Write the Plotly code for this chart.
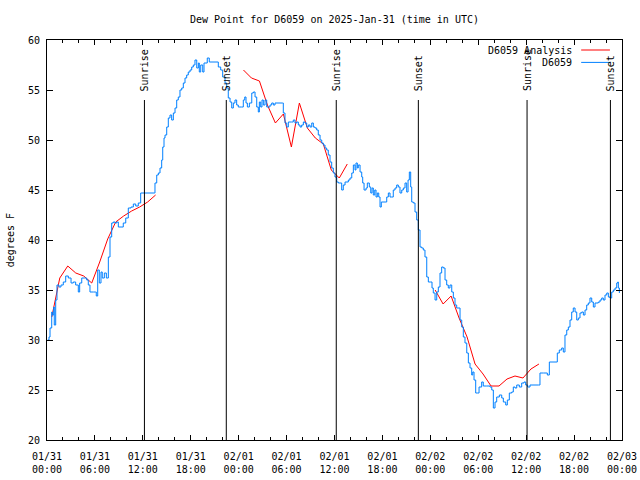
import pandas as pd
import plotly.graph_objects as go

BASE = pd.Timestamp("2025-01-31 00:00")

# Observed dew point (hours since 01/31 00:00 UTC, degrees F)
obs_hours = [0.09, 0.25, 0.38, 0.59, 0.66, 0.84, 0.91, 1.09, 1.25, 1.50, 1.75, 2.04, 2.34, 2.67, 3.01, 3.29, 3.59, 3.92,
             4.09, 4.35, 4.67, 4.97, 5.17, 5.38, 5.80, 6.10, 6.17, 6.35, 6.55, 6.76, 6.92, 7.18, 7.43, 7.68, 7.89, 8.10,
             8.30, 8.52, 8.73, 8.93, 9.27, 9.55, 9.86, 10.18, 10.52, 10.81, 11.11, 11.43, 11.73, 13.44,
             13.52, 13.74, 13.94, 14.15, 14.36, 14.49, 14.65, 14.78, 14.99, 15.19, 15.40, 15.61, 15.82, 16.03, 16.24,
             16.44, 16.65, 16.87, 17.07, 17.28, 17.49, 17.69, 17.91, 18.12, 18.32, 18.53, 18.75, 18.95, 19.07, 19.25,
             19.50, 19.66, 19.91, 20.07, 20.32, 21.16, 21.45, 21.75, 22.00, 22.29, 22.50, 22.70, 22.92, 23.13, 23.33,
             23.54, 23.75, 23.95, 24.38, 24.58, 24.76, 24.92, 25.09, 25.34, 25.64, 25.84, 26.05, 26.26, 26.46, 26.59,
             26.76, 26.92, 27.09, 27.30, 27.51, 27.71, 27.92, 28.14, 28.34, 28.55, 29.51, 29.59, 29.80, 30.02, 30.22,
             30.64, 30.84, 31.05, 31.27, 31.47, 31.68, 31.89, 32.10, 32.31, 32.52, 32.72, 32.93, 33.15, 33.35, 33.56,
             33.77, 33.97, 34.19, 34.40, 34.60, 34.81, 35.02, 35.22, 35.44, 35.65, 35.85, 36.06, 36.28, 36.48, 36.90,
             37.10, 37.32, 37.73, 37.94, 38.16, 38.36, 38.57, 38.69, 38.86, 38.98, 39.20, 39.41, 39.53, 39.70, 39.95,
             40.11, 40.36, 40.54, 40.70, 40.86, 41.04, 41.20, 41.36, 41.54, 41.70, 41.86, 42.33, 42.54, 42.74, 42.95,
             43.16, 43.36, 43.58, 43.79, 43.99, 44.20, 44.42, 44.62, 44.83, 45.04, 45.21, 45.37, 45.54, 45.67, 45.87,
             46.08, 46.29, 46.49, 46.71, 46.92, 47.12, 47.33, 47.55, 47.75, 48.05, 48.21, 48.37, 48.59, 48.80, 49.00,
             49.21, 49.42, 49.62, 49.84, 50.05, 50.25, 50.46, 50.68, 50.88, 51.09, 51.30, 51.72, 51.93, 52.13, 52.34,
             52.56, 52.76, 52.97, 53.18, 53.31, 53.47, 53.68, 53.88, 54.10, 54.43, 54.63, 55.06, 55.47, 55.69, 55.89,
             56.10, 56.31, 56.64, 56.94, 57.14, 57.44, 57.64, 57.89, 58.19, 58.39, 58.60, 58.82, 59.14, 59.44, 59.73,
             59.94, 60.19, 60.48, 61.52, 61.73, 62.15, 62.65, 62.90, 63.74, 63.90, 64.15, 64.45, 64.65, 64.86, 65.08,
             65.28, 65.49, 65.70, 65.90, 66.12, 66.33, 66.53, 66.74, 66.96, 67.16, 67.37, 67.58, 67.78, 67.99, 68.21,
             68.41, 68.62, 69.03, 69.25, 69.46, 69.66, 69.87, 70.09, 70.29, 70.50, 70.71, 70.91, 71.13, 71.34, 71.46,
             71.54, 71.67]
obs_values = [30.0, 30.3, 31.2, 32.8, 32.5, 33.3, 31.5, 34.0, 35.5, 35.3, 35.5, 35.8, 36.4, 36.2, 35.7, 35.8, 35.5, 34.8,
              35.7, 36.2, 36.2, 36.0, 35.5, 34.8, 34.8, 34.8, 34.4, 37.0, 35.7, 36.8, 36.2, 36.7, 36.2, 38.3, 40.3, 41.7,
              41.8, 41.7, 41.8, 41.3, 41.3, 41.7, 42.2, 43.2, 43.3, 43.6, 43.4, 43.7, 44.7, 44.7,
              45.7, 46.5, 46.7, 47.2, 48.0, 49.3, 50.2, 50.5, 51.3, 52.2, 52.5, 52.0, 52.7, 53.2, 54.0,
              54.3, 55.0, 55.2, 55.7, 56.2, 56.5, 56.8, 57.0, 57.3, 57.5, 58.0, 57.2, 57.7, 56.8, 57.5,
              56.8, 57.7, 57.7, 58.2, 57.8, 57.8, 57.3, 57.0, 56.3, 55.7, 55.2, 54.2, 53.8, 53.2, 53.7,
              54.0, 53.5, 53.3, 53.3, 54.0, 54.3, 53.7, 53.3, 53.7, 54.7, 54.8, 54.3, 53.3, 52.8, 53.8,
              53.3, 54.0, 53.5, 54.0, 53.3, 53.3, 53.5, 53.7, 53.5, 53.7, 53.7, 52.7, 51.7, 51.3, 51.8,
              51.8, 52.0, 51.7, 51.8, 51.5, 51.3, 51.5, 51.8, 51.7, 51.3, 51.5, 51.3, 51.7, 51.3, 51.2,
              51.0, 50.5, 50.0, 49.7, 49.5, 49.2, 49.0, 48.5, 47.8, 47.2, 46.7, 46.3, 45.8, 45.7, 45.0,
              45.5, 45.8, 46.0, 46.2, 46.7, 47.5, 47.0, 47.7, 47.2, 47.5, 46.8, 46.3, 45.7, 45.0, 45.2,
              45.7, 45.3, 44.7, 45.2, 44.5, 45.0, 44.3, 44.7, 44.3, 43.3, 43.8, 43.8, 44.3, 44.7, 44.3,
              44.3, 45.0, 45.2, 45.5, 45.3, 44.7, 45.0, 45.2, 45.7, 44.8, 46.0, 46.8, 45.3, 43.8, 43.7,
              42.8, 42.0, 41.0, 39.3, 39.2, 39.0, 38.3, 36.3, 35.8, 35.8, 35.2, 34.7, 34.0, 34.8, 35.3,
              36.7, 37.3, 37.2, 36.0, 35.5, 35.2, 35.5, 34.8, 34.2, 33.5, 33.2, 32.0, 31.3, 30.3, 29.7,
              28.7, 27.7, 27.2, 26.5, 26.8, 26.0, 24.7, 24.7, 25.3, 25.8, 25.4, 25.4, 25.3, 25.0, 23.2,
              23.8, 24.3, 24.5, 24.2, 23.8, 23.5, 24.0, 24.7, 24.8, 25.3, 25.2, 25.5, 25.3, 25.7, 25.8,
              25.5, 25.3, 25.5, 25.5, 26.7, 26.7, 26.5, 27.8, 27.8, 28.7, 29.0, 29.2, 28.8, 30.5, 31.0,
              31.3, 32.0, 32.8, 33.2, 32.8, 32.0, 32.2, 32.7, 32.8, 32.5, 33.0, 33.5, 33.7, 34.2, 33.8,
              33.3, 33.7, 33.8, 34.0, 34.2, 34.0, 34.5, 34.7, 34.3, 34.2, 34.8, 35.0, 35.2, 35.7, 35.8,
              35.2, 34.7]

# Analysis (hourly, three separate runs; None separates them)
ana_hours = [0.6, 1.6, 2.6, 3.6, 4.6, 5.6, 6.6, 7.6, 8.6, 9.6, 10.6, 11.6, 12.6, 13.6, None,
             24.6, 25.6, 26.6, 27.6, 28.6, 29.6, 30.6, 31.6, 32.6, 33.6, 34.6, 35.6, 36.6, 37.6, None,
             48.6, 49.6, 50.6, 51.6, 52.6, 53.6, 54.6, 55.6, 56.6, 57.6, 58.6, 59.6, 60.6, 61.6]
ana_values = [32.3, 36.2, 37.4, 36.7, 36.4, 35.7, 37.8, 40.1, 41.8, 42.4, 42.9, 43.3, 43.8, 44.5, None,
              57.0, 56.2, 55.9, 53.5, 51.7, 52.6, 49.3, 53.7, 51.2, 50.2, 49.6, 47.0, 46.2, 47.6, None,
              35.0, 33.6, 34.4, 32.2, 30.3, 27.6, 26.6, 25.4, 25.4, 26.1, 26.4, 26.2, 27.1, 27.6]

# Sun events (hours since 01/31 00:00 UTC)
sun_hours = [12.2, 22.45, 36.22, 46.5, 60.11, 70.55]
sun_labels = ["Sunrise", "Sunset", "Sunrise", "Sunset", "Sunrise", "Sunset"]

TITLE = "Dew Point for D6059 on 2025-Jan-31 (time in UTC)"
FONT = "DejaVu Sans Mono"


def to_time(hours):
    return [None if h is None else BASE + pd.Timedelta(hours=h) for h in hours]


fig = go.Figure()
fig.add_trace(go.Scatter(x=to_time(ana_hours), y=ana_values, mode="lines", name="D6059 Analysis",
                         line=dict(color="rgb(255,0,0)", width=1), connectgaps=False, showlegend=False))
fig.add_trace(go.Scatter(x=to_time(obs_hours), y=obs_values, mode="lines", name="D6059",
                         line=dict(color="rgb(0,128,255)", width=1, shape="hv"), showlegend=False))

for h, lab in zip(sun_hours, sun_labels):
    t = BASE + pd.Timedelta(hours=h)
    fig.add_shape(type="line", x0=t, x1=t, y0=20, y1=54, xref="x", yref="y",
                  line=dict(color="black", width=1))
    fig.add_annotation(x=t, y=54.7, xref="x", yref="y", text=lab, textangle=-90, showarrow=False,
                       xanchor="center", yanchor="bottom", font=dict(family=FONT, size=10, color="black"))

# Legend drawn gnuplot-style (text right aligned, sample to the right)
legend_items = [("D6059 Analysis", "rgb(255,0,0)", 0.975), ("D6059", "rgb(0,128,255)", 0.944)]
for text, col, yy in legend_items:
    fig.add_annotation(x=0.917, y=yy, xref="paper", yref="paper", text=text, showarrow=False,
                       xanchor="right", yanchor="middle", font=dict(family=FONT, size=10, color="black"))
    fig.add_shape(type="line", x0=0.929, x1=0.979, y0=yy, y1=yy, xref="paper", yref="paper",
                  line=dict(color=col, width=1))

fig.add_annotation(x=-0.064, y=0.5, xref="paper", yref="paper", text="degrees F", textangle=-90,
                   showarrow=False, xanchor="center", yanchor="middle",
                   font=dict(family=FONT, size=10, color="black"))

fig.update_layout(
    width=640, height=480,
    margin=dict(l=47, r=18, t=40, b=40, autoexpand=False),
    paper_bgcolor="white", plot_bgcolor="white",
    font=dict(family=FONT, size=10, color="black"),
    title=dict(text=TITLE, x=0.5, xref="paper", y=1 - 19 / 480, yref="container",
               xanchor="center", yanchor="middle", font=dict(family=FONT, size=10, color="black")),
    showlegend=False,
)
fig.update_xaxes(type="date", range=[BASE, BASE + pd.Timedelta(hours=72)], automargin=False,
                 tickmode="linear", tick0=BASE, dtick=6 * 3600 * 1000, tickformat="%m/%d<br>%H:%M",
                 ticks="inside", ticklen=5, tickcolor="black", tickwidth=1, ticklabelstandoff=7,
                 minor=dict(ticks="inside", ticklen=3, dtick=2 * 3600 * 1000, tick0=BASE, tickcolor="black", showgrid=False),
                 showgrid=False, zeroline=False, showline=True, linecolor="black", linewidth=1, mirror="ticks")
fig.update_yaxes(range=[20, 60], tickmode="linear", tick0=20, dtick=5, automargin=False,
                 ticks="inside", ticklen=6, tickcolor="black", tickwidth=1, ticklabelstandoff=4,
                 showgrid=False, zeroline=False, showline=True, linecolor="black", linewidth=1, mirror="ticks")

fig.write_html("out.html", config={"displayModeBar": False},
               post_script="document.body.style.margin='0';document.body.style.padding='0';")
